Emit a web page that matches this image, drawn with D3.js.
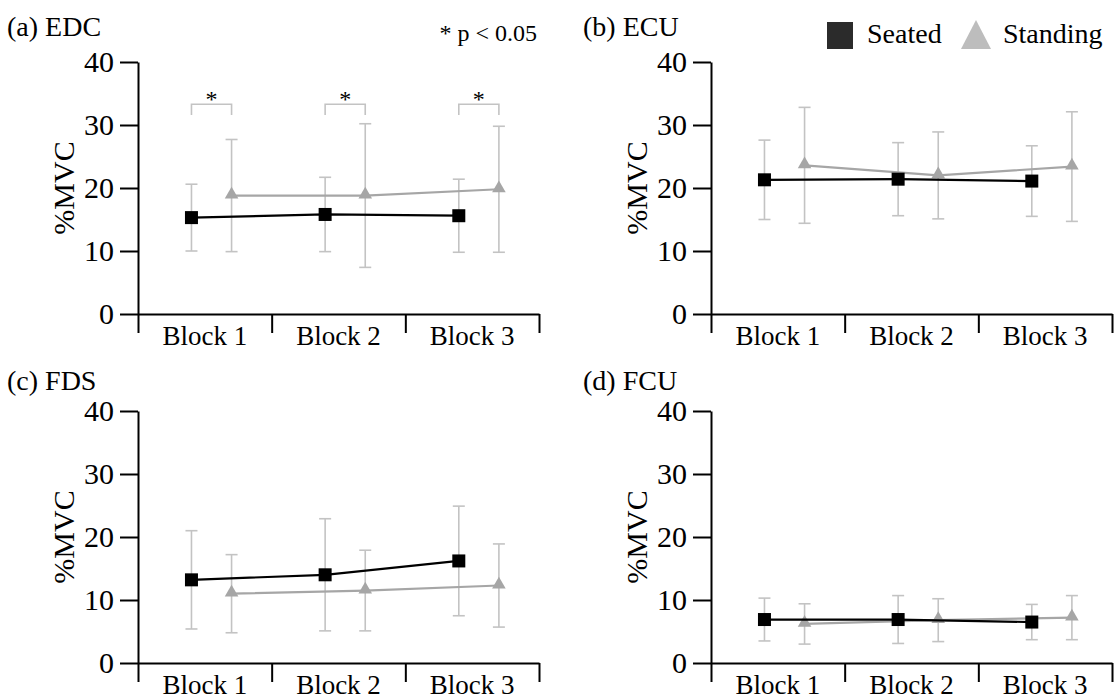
<!DOCTYPE html>
<html>
<head>
<meta charset="utf-8">
<script src="https://cdn.jsdelivr.net/npm/d3@7"></script>
<style>
  body { margin: 0; background: #fff; }
  text { font-family: "Liberation Serif", "Times New Roman", Times, "DejaVu Serif", serif; fill: #000; }
</style>
</head>
<body>
<div id="chart"></div>
<script>
// data (panels a-d)
var blocks = ["Block 1", "Block 2", "Block 3"];
var panelTitles = ["(a) EDC", "(b) ECU", "(c) FDS", "(d) FCU"];
var yTicks = [0, 10, 20, 30, 40];
var seriesNames = ["Seated", "Standing"];

var seatedMean = [[15.3, 15.8, 15.6], [21.3, 21.4, 21.1], [13.2, 14.0, 16.2], [6.9, 6.9, 6.5]];
var seatedSD = [[5.3, 5.9, 5.8], [6.3, 5.8, 5.6], [7.8, 8.9, 8.7], [3.4, 3.8, 2.8]];
var standingMean = [[18.8, 18.8, 19.8], [23.6, 22.0, 23.4], [11.0, 11.5, 12.3], [6.2, 6.8, 7.2]];
var standingSD = [[8.9, 11.4, 10.0], [9.2, 6.9, 8.7], [6.2, 6.4, 6.6], [3.2, 3.4, 3.5]];

// significance brackets (only EDC)
var sigBlocks = [["Block 1", "Block 2", "Block 3"], [], [], []];
var sigTop = 33.3, sigBottom = 31.6;

var width = 1114, height = 696;
var serif = "'Liberation Serif', 'Times New Roman', Times, 'DejaVu Serif', serif";

var seatedColor = "#000", standingColor = "#a6a6a6", errColor = "#c3c3c3";

var svg = d3.select("#chart")
    .append("svg")
    .attr("width", width)
    .attr("height", height);

// panel placement
var frames = [
    { left: 138, right: 539, top: 62, bottom: 314, tx: 7, ty: 36 },
    { left: 711, right: 1112, top: 62, bottom: 314, tx: 583, ty: 36 },
    { left: 138, right: 539, top: 411, bottom: 663, tx: 7, ty: 390 },
    { left: 711, right: 1112, top: 411, bottom: 663, tx: 583, ty: 390 }
];

frames.forEach(function (f, i) {
    var g = svg.append("g");

    var x = d3.scaleBand().domain(blocks).range([f.left, f.right]).padding(0);
    var xs = d3.scalePoint().domain(seriesNames)
        .range([x.bandwidth() * 0.4, x.bandwidth() * 0.7]);
    var xEdge = d3.scaleLinear().domain([0, blocks.length]).range([f.left, f.right]);
    var y = d3.scaleLinear().domain([0, 40]).range([f.bottom, f.top]);

    // title
    g.append("text")
        .attr("x", f.tx)
        .attr("y", f.ty)
        .attr("font-size", "28px")
        .text(panelTitles[i]);

    // y axis
    var yAxis = g.append("g")
        .attr("transform", "translate(" + f.left + ",0)")
        .call(d3.axisLeft(y).tickValues(yTicks).tickSize(18).tickSizeOuter(0).tickPadding(6));
    yAxis.attr("font-family", serif);
    yAxis.selectAll("text").attr("font-size", "30px");

    // x axis: ticks at block edges
    var xAxis = g.append("g")
        .attr("transform", "translate(0," + f.bottom + ")")
        .call(d3.axisBottom(xEdge).tickValues(d3.range(blocks.length + 1)).tickSize(19).tickSizeOuter(0).tickFormat(""));
    var xLab = g.append("g")
        .attr("transform", "translate(0," + f.bottom + ")")
        .call(d3.axisBottom(x).tickSize(0).tickPadding(12));
    xLab.attr("font-family", serif);
    xLab.select(".domain").remove();
    xLab.selectAll("text").attr("font-size", "27px");

    svg.selectAll(".domain, .tick line").attr("stroke", "#000").attr("stroke-width", 2);

    // y label
    g.append("text")
        .attr("transform", "translate(" + (f.left - 64) + "," + y(20) + ") rotate(-90)")
        .attr("text-anchor", "middle")
        .attr("font-size", "30px")
        .text("%MVC");

    var series = [
        { name: "Seated", mean: seatedMean[i], sd: seatedSD[i], color: seatedColor },
        { name: "Standing", mean: standingMean[i], sd: standingSD[i], color: standingColor }
    ];

    // error bars
    series.forEach(function (s) {
        var pts = blocks.map(function (b, j) {
            return { cx: x(b) + xs(s.name), m: s.mean[j], sd: s.sd[j] };
        });
        var eb = g.append("g").attr("stroke", errColor).attr("stroke-width", 1.6);
        eb.selectAll("line.v").data(pts).enter().append("line")
            .attr("x1", function (d) { return d.cx }).attr("x2", function (d) { return d.cx })
            .attr("y1", function (d) { return y(d.m - d.sd) }).attr("y2", function (d) { return y(d.m + d.sd) });
        eb.selectAll("line.t").data(pts).enter().append("line")
            .attr("x1", function (d) { return d.cx - 6 }).attr("x2", function (d) { return d.cx + 6 })
            .attr("y1", function (d) { return y(d.m + d.sd) }).attr("y2", function (d) { return y(d.m + d.sd) });
        eb.selectAll("line.b").data(pts).enter().append("line")
            .attr("x1", function (d) { return d.cx - 6 }).attr("x2", function (d) { return d.cx + 6 })
            .attr("y1", function (d) { return y(d.m - d.sd) }).attr("y2", function (d) { return y(d.m - d.sd) });
    });

    // mean lines + markers (standing underneath seated)
    [series[1], series[0]].forEach(function (s) {
        var line = d3.line()
            .x(function (d, j) { return x(blocks[j]) + xs(s.name) })
            .y(function (d) { return y(d) });
        g.append("path")
            .datum(s.mean)
            .attr("fill", "none")
            .attr("stroke", s.color)
            .attr("stroke-width", 2.2)
            .attr("d", line);

        if (s.name == "Seated") {
            g.selectAll("rect.m" + i).data(s.mean).enter().append("rect")
                .attr("x", function (d, j) { return x(blocks[j]) + xs(s.name) - 6.5 })
                .attr("y", function (d) { return y(d) - 6.5 })
                .attr("width", 13).attr("height", 13)
                .attr("fill", s.color);
        } else {
            g.selectAll("path.tri").data(s.mean).enter().append("path")
                .attr("d", d3.symbol(d3.symbolTriangle).size(80))
                .attr("transform", function (d, j) { return "translate(" + (x(blocks[j]) + xs(s.name)) + "," + (y(d) - 1) + ")" })
                .attr("fill", s.color);
        }
    });

    // significance brackets
    sigBlocks[i].forEach(function (b) {
        var x1 = x(b) + xs("Seated"), x2 = x(b) + xs("Standing");
        g.append("path")
            .attr("d", "M" + x1 + "," + y(sigBottom) + "V" + y(sigTop) + "H" + x2 + "V" + y(sigBottom))
            .attr("fill", "none")
            .attr("stroke", errColor)
            .attr("stroke-width", 1.6);
        g.append("text")
            .attr("x", (x1 + x2) / 2)
            .attr("y", y(sigTop) + 3)
            .attr("text-anchor", "middle")
            .attr("font-size", "24px")
            .text("*");
    });
});

// p-value note
svg.append("text")
    .attr("x", 537)
    .attr("y", 41)
    .attr("text-anchor", "end")
    .attr("font-size", "24px")
    .text("* p < 0.05");

// legend
svg.append("rect")
    .attr("x", 827).attr("y", 22)
    .attr("width", 26).attr("height", 27)
    .attr("fill", "#2b2b2b");
svg.append("text")
    .attr("x", 867).attr("y", 43)
    .attr("font-size", "28px")
    .text(seriesNames[0]);
svg.append("path")
    .attr("d", "M961,49L976,20L991,49Z")
    .attr("fill", "#bdbdbd");
svg.append("text")
    .attr("x", 1003).attr("y", 43)
    .attr("font-size", "28px")
    .text(seriesNames[1]);
</script>
</body>
</html>
